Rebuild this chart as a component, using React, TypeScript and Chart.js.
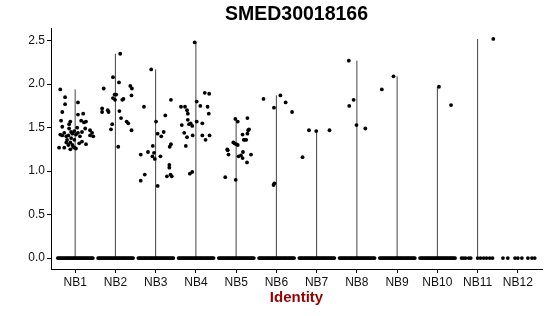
import { useEffect, useRef } from "react";
import { Chart, registerables } from "chart.js";

Chart.register(...registerables);

const CATEGORIES = ["NB1", "NB2", "NB3", "NB4", "NB5", "NB6", "NB7", "NB8", "NB9", "NB10", "NB11", "NB12"];
const Y_TICKS = [0, 0.5, 1.0, 1.5, 2.0, 2.5];
const TITLE = "SMED30018166";
const X_TITLE = "Identity";

// non-zero expression values: [jitter offset (category units), value]
const NB1_PTS = [
  [-0.37, 1.94], [-0.25, 1.85], [-0.25, 1.77], [-0.32, 1.68], [0.07, 1.79], [0.2, 1.66], [0.07, 1.65],
  [-0.35, 1.58], [-0.12, 1.57], [-0.15, 1.54], [0.15, 1.58], [0.27, 1.57], [0.22, 1.56], [-0.32, 1.51],
  [-0.15, 1.49], [0.37, 1.47], [0.42, 1.44], [0.37, 1.41], [0.45, 1.4], [-0.37, 1.42], [-0.32, 1.41],
  [-0.22, 1.4], [-0.27, 1.44], [-0.17, 1.41], [-0.1, 1.38], [-0.07, 1.43], [-0.02, 1.36], [0.02, 1.42],
  [0.07, 1.44], [0.12, 1.4], [0.17, 1.45], [0.25, 1.49], [-0.02, 1.46], [-0.12, 1.33], [-0.07, 1.3],
  [-0.17, 1.3], [-0.22, 1.33], [-0.27, 1.27], [-0.4, 1.27], [-0.05, 1.28], [0.02, 1.26], [0.1, 1.32],
  [0.17, 1.34], [0.27, 1.31], [-0.2, 1.36], [-0.1, 1.45], [0.05, 1.5], [-0.02, 1.27], [-0.12, 1.25],
];
const NB2_PTS = [
  [0.12, 2.35], [-0.06, 2.08], [0.09, 2.02], [-0.29, 1.95], [0.37, 1.98], [0.41, 1.95], [-0.02, 1.88],
  [0.02, 1.88], [-0.06, 1.84], [-0.01, 1.82], [0.2, 1.83], [0.17, 1.82], [0.4, 1.87], [-0.33, 1.72],
  [-0.19, 1.7], [-0.17, 1.68], [-0.33, 1.68], [0.1, 1.69], [0.14, 1.61], [-0.08, 1.54], [0.28, 1.57],
  [0.32, 1.55], [-0.11, 1.48], [0.4, 1.47], [0.07, 1.28],
];
const NB3_PTS = [
  [-0.11, 2.17], [-0.29, 1.74], [0.38, 1.82], [0.01, 1.57], [0.24, 1.64], [0.05, 1.43], [0.14, 1.4],
  [0.2, 1.45], [0.38, 1.31], [0.35, 1.28], [-0.07, 1.29], [-0.37, 1.19], [-0.19, 1.22], [-0.04, 1.21],
  [-0.08, 1.17], [-0.02, 1.14], [0.12, 1.17], [-0.37, 0.89], [-0.27, 0.96], [0.05, 0.83], [0.34, 1.07],
  [0.34, 1.04], [0.28, 0.94], [0.37, 0.96], [0.4, 0.94],
];
const NB4_PTS = [
  [-0.03, 2.48], [-0.37, 1.74], [-0.27, 1.74], [-0.22, 1.7], [-0.2, 1.66], [-0.35, 1.53], [-0.2, 1.59],
  [-0.29, 1.44], [-0.22, 1.39], [-0.25, 1.29], [-0.09, 1.52], [-0.13, 1.55], [-0.17, 1.54], [0.02, 1.8],
  [0.02, 1.57], [0.11, 1.75], [0.22, 1.9], [0.33, 1.89], [0.29, 1.74], [0.32, 1.66], [0.16, 1.55],
  [0.16, 1.41], [0.24, 1.36], [0.34, 1.41], [-0.08, 1.41], [-0.15, 0.97], [-0.09, 0.99],
];
const NB5_PTS = [
  [-0.02, 1.6], [0.28, 1.61], [0.04, 1.57], [-0.04, 1.32], [0.0, 1.31], [0.04, 1.3], [0.16, 1.42],
  [0.28, 1.43], [0.3, 1.47], [0.32, 1.48], [0.22, 1.36], [0.25, 1.36], [0.19, 1.36], [-0.22, 1.25],
  [-0.19, 1.19], [-0.21, 1.24], [0.06, 1.17], [0.12, 1.18], [0.17, 1.22], [0.16, 1.15], [0.27, 1.1],
  [0.37, 1.19], [-0.27, 0.93], [-0.01, 0.9], [-0.07, 1.33],
];
const NB6_PTS = [[-0.06, 1.73], [0.1, 1.87], [0.23, 1.79], [0.39, 1.68], [-0.32, 1.83], [-0.07, 0.84], [-0.05, 0.86]];
const NB7_PTS = [[-0.19, 1.47], [-0.01, 1.46], [0.32, 1.47], [-0.35, 1.16]];
const NB8_PTS = [[-0.2, 2.27], [-0.08, 1.82], [-0.19, 1.75], [-0.01, 1.53], [0.21, 1.49]];
const NB9_PTS = [[-0.38, 1.94], [-0.09, 2.09]];
const NB10_PTS = [[0.04, 1.97], [0.34, 1.76]];
const NB11_PTS = [[0.39, 2.52]];
const NB12_PTS: number[][] = [];

// jitter offsets of the zero-valued cells
const ZERO_JITTER = [
  -0.43, -0.4, -0.37, -0.34, -0.31, -0.28, -0.25, -0.22, -0.19, -0.16, -0.13, -0.1, -0.07, -0.04, -0.01,
  0.02, 0.05, 0.08, 0.11, 0.14, 0.17, 0.2, 0.23, 0.26, 0.29, 0.32, 0.35, 0.38, 0.41, 0.44,
];
const NB11_ZERO_JITTER = [-0.4, -0.35, -0.3, -0.22, -0.17, 0.0, 0.07, 0.15, 0.22, 0.3, 0.37];
const NB12_ZERO_JITTER = [-0.37, -0.25, -0.07, 0.0, 0.1, 0.25, 0.35, 0.42];

const GROUP_POINTS = [NB1_PTS, NB2_PTS, NB3_PTS, NB4_PTS, NB5_PTS, NB6_PTS, NB7_PTS, NB8_PTS, NB9_PTS, NB10_PTS, NB11_PTS, NB12_PTS];
const GROUP_ZEROS = [
  ZERO_JITTER, ZERO_JITTER, ZERO_JITTER, ZERO_JITTER, ZERO_JITTER, ZERO_JITTER, ZERO_JITTER,
  ZERO_JITTER, ZERO_JITTER, ZERO_JITTER, NB11_ZERO_JITTER, NB12_ZERO_JITTER,
];

const FONT = '"Liberation Sans", Arial, Helvetica, sans-serif';

const titlePlugin = {
  id: "mainTitle",
  afterDraw(chart: any) {
    const { ctx, chartArea } = chart;
    ctx.save();
    ctx.font = `bold 19.5px ${FONT}`;
    ctx.fillStyle = "#000";
    ctx.textAlign = "center";
    ctx.textBaseline = "middle";
    ctx.fillText(TITLE, (chartArea.left + chartArea.right) / 2, 15);
    ctx.restore();
  },
};

export default function App() {
  const ref = useRef<HTMLCanvasElement>(null);

  useEffect(() => {
    if (!ref.current) return;

    const points: { x: number; y: number }[] = [];
    const lines: { x: number; y: number | null }[] = [];
    GROUP_POINTS.forEach((pts, i) => {
      const c = i + 1;
      GROUP_ZEROS[i].forEach((j) => points.push({ x: c + j, y: 0 }));
      pts.forEach(([j, v]) => points.push({ x: c + j, y: v }));
      const max = pts.reduce((m, p) => Math.max(m, p[1]), 0);
      if (max > 0) {
        lines.push({ x: c, y: 0 }, { x: c, y: max }, { x: c, y: null });
      }
    });

    const chart = new Chart(ref.current, {
      type: "scatter",
      data: {
        datasets: [
          {
            type: "scatter",
            data: points,
            pointRadius: 1.9,
            pointBackgroundColor: "#000",
            pointBorderWidth: 0,
            order: 1,
          } as any,
          {
            type: "line",
            data: lines,
            borderColor: "#444",
            borderWidth: 1,
            pointRadius: 0,
            showLine: true,
            spanGaps: false,
            order: 2,
          } as any,
        ],
      },
      options: {
        responsive: false,
        animation: false,
        events: [],
        layout: { padding: { top: 28, right: 8, left: 0, bottom: 0 } },
        plugins: { legend: { display: false }, tooltip: { enabled: false }, title: { display: false } },
        scales: {
          x: {
            type: "linear",
            min: 0.4,
            max: 12.6,
            afterBuildTicks: (s: any) => {
              s.ticks = CATEGORIES.map((_, i) => ({ value: i + 1 }));
            },
            afterFit: (s: any) => {
              s.height = 47;
            },
            ticks: {
              autoSkip: false,
              maxRotation: 0,
              padding: 2,
              color: "#111",
              font: { family: FONT, size: 12 },
              callback: (v: any) => CATEGORIES[Math.round(v) - 1] ?? "",
            },
            grid: { drawOnChartArea: false, drawTicks: true, tickLength: 4, color: "#000", lineWidth: 1 },
            border: { display: true, color: "#000", width: 1 },
            title: {
              display: true,
              text: X_TITLE,
              color: "#990000",
              font: { family: FONT, size: 15, weight: "bold" },
              padding: { top: 0, bottom: 9 },
            },
          },
          y: {
            type: "linear",
            min: -0.126,
            max: 2.646,
            afterBuildTicks: (s: any) => {
              s.ticks = Y_TICKS.map((v) => ({ value: v }));
            },
            afterFit: (s: any) => {
              s.width = 51;
            },
            ticks: {
              padding: 2,
              color: "#111",
              font: { family: FONT, size: 12 },
              callback: (v: any) => Number(v).toFixed(1),
            },
            grid: { drawOnChartArea: false, drawTicks: true, tickLength: 4, color: "#000", lineWidth: 1 },
            border: { display: true, color: "#000", width: 1 },
          },
        },
      },
      plugins: [titlePlugin],
    });

    return () => chart.destroy();
  }, []);

  return (
    <div style={{ position: "absolute", left: 0, top: 0, width: 550, height: 316, background: "#fff" }}>
      <canvas ref={ref} width={550} height={316} style={{ width: 550, height: 316 }} />
    </div>
  );
}
